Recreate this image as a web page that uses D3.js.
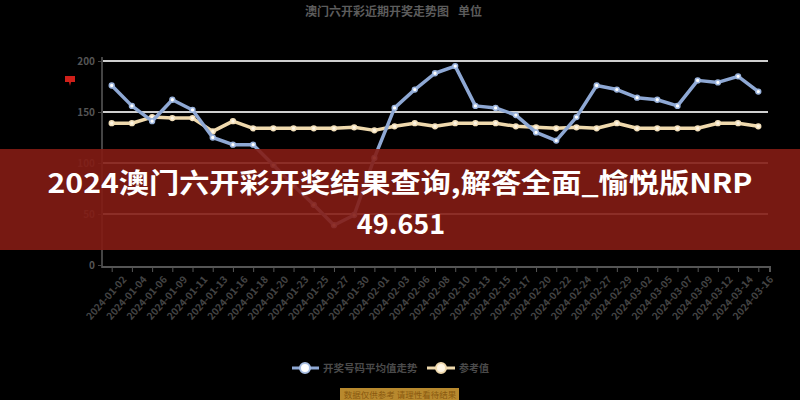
<!DOCTYPE html>
<html><head><meta charset="utf-8">
<script src="https://cdn.jsdelivr.net/npm/d3@7"></script>
<style>
html,body{margin:0;padding:0;background:#000;}
svg{display:block;}
</style></head>
<body>
<svg id="c" width="800" height="400"></svg>
<script>
const categories = ["2024-01-02","2024-01-04","2024-01-06","2024-01-09","2024-01-11","2024-01-13","2024-01-16","2024-01-18","2024-01-20","2024-01-23","2024-01-25","2024-01-27","2024-01-30","2024-02-01","2024-02-03","2024-02-06","2024-02-08","2024-02-10","2024-02-13","2024-02-15","2024-02-17","2024-02-20","2024-02-22","2024-02-24","2024-02-27","2024-02-29","2024-03-02","2024-03-05","2024-03-07","2024-03-09","2024-03-12","2024-03-14","2024-03-16"];
const seriesA = [176,156,141,162,152,125,118,118,98,78,59,39,49,105,154,172,188,195,156,154,147,130,122,145,176,172,164,162,156,181,179,185,170];
const seriesB = [139,139,145,144,144,131,141,134,134,134,134,134,135,132,136,139,136,139,139,139,136,135,134,135,134,139,134,134,134,134,139,139,136];
const yTicks = [0,50,100,150,200];
const seriesNames = ["开奖号码平均值走势","参考值"];
const titleText = "澳门六开彩近期开奖走势图";
const subText = "单位";
const noteText = "数据仅供参考 请理性看待结果";
const bannerLine1 = "2024澳门六开彩开奖结果查询,解答全面_愉悦版NRP";
const bannerLine2 = "49.651";

const svg = d3.select("#c");
const x = d3.scalePoint().domain(categories).range([111.7, 758.3]);
const y = d3.scaleLinear().domain([0,200]).range([265, 61]);
const font = "'Noto Sans CJK SC','Noto Sans',sans-serif";

// title
svg.append("text").attr("x",377).attr("y",16).attr("text-anchor","middle")
  .attr("font-family",font).attr("font-size",12).attr("font-weight","bold").attr("fill","#5c5c5c").text(titleText);
svg.append("text").attr("x",470).attr("y",16).attr("text-anchor","middle")
  .attr("font-family",font).attr("font-size",12).attr("font-weight","bold").attr("fill","#5c5c5c").text(subText);

// red icon
svg.append("path").attr("d","M65,76 L75,76 L75,82 L71,82 L70,86 L69,82 L65,82 Z").attr("fill","#d0201a");

// gridlines
svg.append("g").selectAll("line").data(yTicks.filter(d=>d>0)).join("line")
  .attr("x1",103).attr("x2",768).attr("y1",d=>y(d)).attr("y2",d=>y(d))
  .attr("stroke","#cfcfcf").attr("stroke-width",2);

// y axis
const yAxis = svg.append("g").attr("transform","translate(102,0)")
  .call(d3.axisLeft(y).tickValues(yTicks).tickSize(4).tickFormat(d3.format("d")));
yAxis.select(".domain").attr("stroke","#444").attr("stroke-width",2).attr("d","M0,57V268");
yAxis.selectAll(".tick line").attr("stroke","#444");
yAxis.selectAll("text").attr("font-family",font).attr("font-size",10).attr("font-weight","bold").attr("fill","#555");

// x axis
const xAxis = svg.append("g").attr("transform","translate(0,267)")
  .call(d3.axisBottom(x).tickSize(5));
xAxis.select(".domain").attr("stroke","#555").attr("stroke-width",2).attr("d","M102,0H770V5");
xAxis.selectAll(".tick line").attr("stroke","#555");
xAxis.selectAll("text").attr("font-family",font).attr("font-size",10).attr("font-weight","bold").attr("fill","#444")
  .attr("text-anchor","end").attr("transform","translate(6,2) rotate(-48)").attr("dy","0.6em").attr("dx","-0.2em");

// lines
const lineGen = d3.line().x((d,i)=>x(categories[i])).y(d=>y(d));
function drawSeries(vals, color, ptStroke, ptFill, w){
  svg.append("path").datum(vals).attr("d",lineGen).attr("fill","none")
    .attr("stroke",color).attr("stroke-width",w).attr("stroke-linejoin","round");
  svg.append("g").selectAll("circle").data(vals).join("circle")
    .attr("cx",(d,i)=>x(categories[i])).attr("cy",d=>y(d)).attr("r",2.4)
    .attr("fill",ptFill).attr("stroke",ptStroke).attr("stroke-width",1.5);
}
drawSeries(seriesB, "#efd9ad", "#f2dfba", "#fff6e4", 3.5);
drawSeries(seriesA, "#8ea8d4", "#9ab3dc", "#ffffff", 3.5);

// legend
const lg = svg.append("g");
lg.append("line").attr("x1",292).attr("x2",319).attr("y1",368).attr("y2",368).attr("stroke","#8ea8d4").attr("stroke-width",3);
lg.append("circle").attr("cx",305).attr("cy",368).attr("r",5).attr("fill","#fff").attr("stroke","#a8bee2").attr("stroke-width",2);
lg.append("text").attr("x",323).attr("y",372).attr("font-family",font).attr("font-size",10.5).attr("font-weight","bold").attr("fill","#4a4a4a").text(seriesNames[0]);
lg.append("line").attr("x1",427).attr("x2",455).attr("y1",368).attr("y2",368).attr("stroke","#efd9ad").attr("stroke-width",3);
lg.append("circle").attr("cx",441).attr("cy",368).attr("r",5).attr("fill","#fff6e4").attr("stroke","#efd9ad").attr("stroke-width",2);
lg.append("text").attr("x",459).attr("y",372).attr("font-family",font).attr("font-size",10).attr("font-weight","bold").attr("fill","#4a4a4a").text(seriesNames[1]);

// note box
svg.append("rect").attr("x",340).attr("y",388).attr("width",119).attr("height",14).attr("fill","#b8892e");
svg.append("text").attr("x",400).attr("y",398).attr("text-anchor","middle").attr("font-family",font).attr("font-size",8.5).attr("fill","#8a5a10").text(noteText);

// banner
svg.append("rect").attr("x",0).attr("y",149).attr("width",800).attr("height",101).attr("fill","rgba(132,28,20,0.9)");
svg.append("text").attr("x",400).attr("y",193).attr("text-anchor","middle").attr("font-family",font)
  .attr("font-size",27).attr("font-weight","bold").attr("fill","#fff").attr("textLength",705).attr("lengthAdjust","spacingAndGlyphs").text(bannerLine1);
svg.append("text").attr("x",401).attr("y",234).attr("text-anchor","middle").attr("font-family",font)
  .attr("font-size",27).attr("font-weight","bold").attr("fill","#fff").text(bannerLine2);
</script>
</body></html>
